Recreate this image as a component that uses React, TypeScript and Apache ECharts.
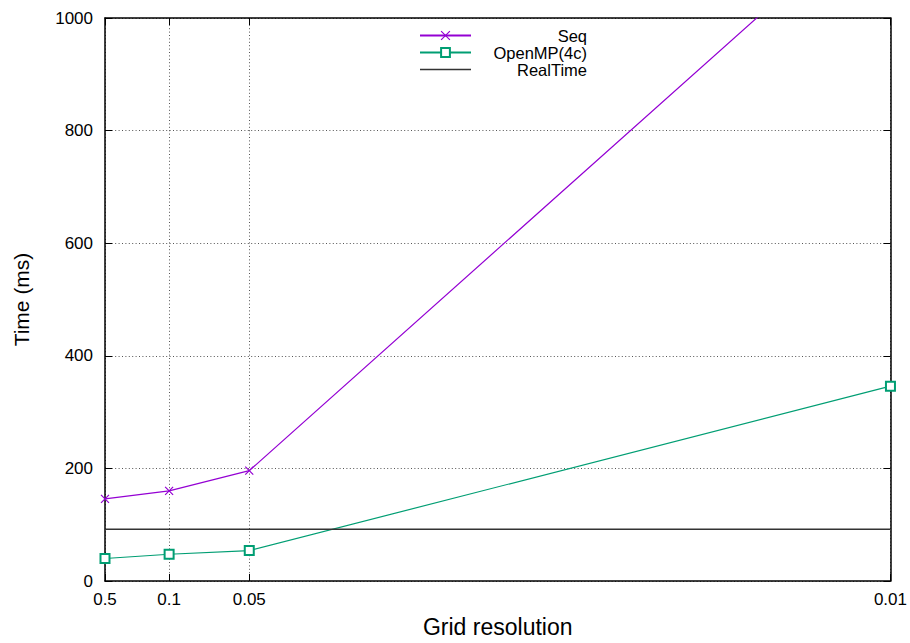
import React, { useEffect, useRef } from 'react';
import * as echarts from 'echarts';

const resolutions = [0.5, 0.1, 0.05, 0.01];
const seqTimes = [146, 160, 196, 1212];
const openmpTimes = [40, 47.5, 54, 346];
const realTimeLimit = 92;
const seriesNames = ['Seq', 'OpenMP(4c)', 'RealTime'];
const yMin = 0;
const yMax = 1000;
const yInterval = 200;

export default function App() {
  const ref = useRef<HTMLDivElement>(null);
  useEffect(() => {
    document.body.style.margin = '0';
    const chart = echarts.init(ref.current!, null, { renderer: 'svg' });
    const xs = resolutions.map((r) => 1 / r);
    const font = "'Liberation Sans', Arial, Helvetica, sans-serif";
    const xLabel = (v: number) => {
      const i = xs.findIndex((x) => Math.abs(x - v) < 1e-9);
      return i >= 0 ? String(resolutions[i]) : '';
    };
    const gridLine = { show: true, lineStyle: { color: '#555', type: [1, 2.4], width: 1 } };
    const axisLine = { show: true, onZero: false, lineStyle: { color: '#000', width: 1.5 } };
    const tick = { show: true, inside: true, length: 7, lineStyle: { color: '#000', width: 1 } };
    const xMin = Math.min(...xs);
    const xMax = Math.max(...xs);
    chart.setOption({
      animation: false,
      backgroundColor: '#fff',
      textStyle: { fontFamily: font },
      grid: { left: 105, right: 19, top: 18, bottom: 62, containLabel: false },
      legend: {
        orient: 'vertical',
        left: 419,
        top: 27,
        padding: 0,
        itemGap: 0,
        itemWidth: 51,
        itemHeight: 11,
        itemStyle: { borderWidth: 1.2 },
        data: [
          { name: seriesNames[0] },
          { name: seriesNames[1] },
          { name: seriesNames[2], icon: 'path://M0,0L100,0L100,3.2L0,3.2Z' },
        ],
        formatter: '{a|{name}}',
        textStyle: {
          rich: {
            a: { width: 111, align: 'right', fontSize: 16.5, lineHeight: 17.3, color: '#000', fontFamily: font },
          },
        },
      },
      xAxis: [
        {
          type: 'value',
          min: xMin,
          max: xMax,
          position: 'bottom',
          name: 'Grid resolution',
          nameLocation: 'middle',
          nameGap: 34,
          nameTextStyle: { fontSize: 23, color: '#000', fontFamily: font },
          axisLine,
          axisTick: { ...tick, customValues: xs },
          axisLabel: { customValues: xs, formatter: xLabel, fontSize: 17, color: '#000', margin: 10, fontFamily: font },
          splitLine: gridLine,
        },
        {
          type: 'value',
          min: xMin,
          max: xMax,
          position: 'top',
          axisLine,
          axisTick: { ...tick, customValues: xs },
          axisLabel: { show: false },
          splitLine: { show: false },
        },
      ],
      yAxis: [
        {
          type: 'value',
          min: yMin,
          max: yMax,
          interval: yInterval,
          position: 'left',
          name: 'Time (ms)',
          nameLocation: 'middle',
          nameGap: 73,
          nameRotate: 90,
          nameTextStyle: { fontSize: 21, color: '#000', fontFamily: font },
          axisLine,
          axisTick: tick,
          axisLabel: { fontSize: 17, color: '#000', margin: 12, fontFamily: font, formatter: (v: number) => String(v) },
          splitLine: gridLine,
        },
        {
          type: 'value',
          min: yMin,
          max: yMax,
          interval: yInterval,
          position: 'right',
          axisLine,
          axisTick: tick,
          axisLabel: { show: false },
          splitLine: { show: false },
        },
      ],
      series: [
        {
          name: seriesNames[0],
          type: 'line',
          data: xs.map((x, i) => [x, seqTimes[i]]),
          symbol: 'path://M0,0L10,10M10,0L0,10',
          symbolSize: 8,
          clip: true,
          lineStyle: { color: '#9400d3', width: 1.2 },
          itemStyle: { color: '#9400d3', borderColor: '#9400d3', borderWidth: 1.2 },
        },
        {
          name: seriesNames[1],
          type: 'line',
          data: xs.map((x, i) => [x, openmpTimes[i]]),
          symbol: 'emptyRect',
          symbolSize: 9,
          clip: true,
          lineStyle: { color: '#009e73', width: 1.2 },
          itemStyle: { color: '#009e73', borderColor: '#009e73', borderWidth: 1.2 },
        },
        {
          name: seriesNames[2],
          type: 'line',
          data: [[xMin, realTimeLimit], [xMax, realTimeLimit]],
          symbol: 'none',
          clip: true,
          lineStyle: { color: '#333', width: 1.5 },
          itemStyle: { color: '#333' },
        },
      ],
    });
    return () => chart.dispose();
  }, []);
  return <div ref={ref} style={{ position: 'absolute', left: 0, top: 0, width: 910, height: 643 }} />;
}
